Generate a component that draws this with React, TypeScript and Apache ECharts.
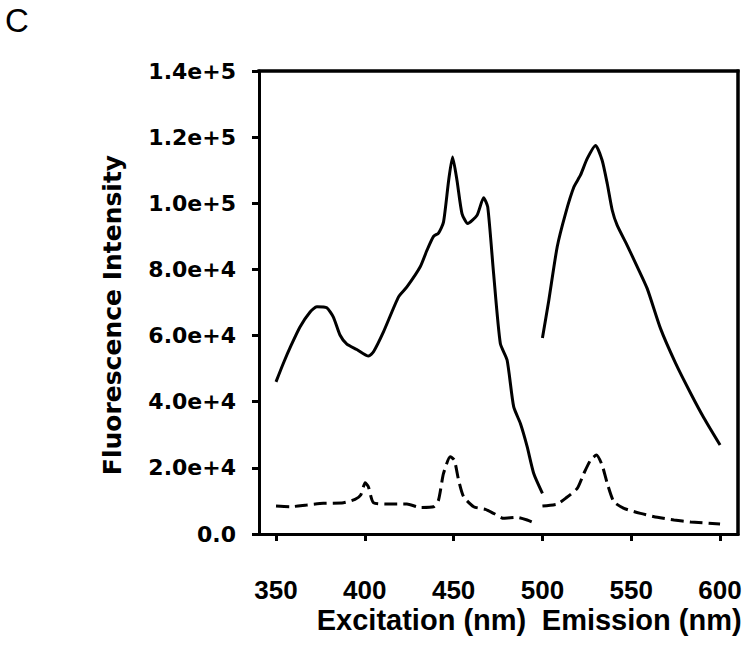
import React, { useEffect, useRef } from "react";
import * as echarts from "echarts";

// Excitation spectrum (solid)
const excX = [350, 354.1, 358.5, 363.5, 369.2, 373, 378.6, 382.3, 386.1, 389.9, 395.5, 402.1, 404.9, 410.5, 419, 423.7, 431.2, 435, 438.7, 441.5, 444.3, 447.2, 449.4, 451.9, 454.7, 457.9, 463.2, 466.9, 469.2, 472.5, 476.3, 480.1, 483.8, 487.6, 491.4, 495.1, 500];
const excY = [46000, 51560, 57000, 62600, 67150, 68700, 68400, 65600, 60100, 57400, 55800, 53800, 55100, 61100, 71700, 74700, 80800, 85800, 90000, 91000, 94300, 106900, 114000, 106900, 96900, 93900, 96400, 101700, 98900, 78800, 57600, 52600, 38500, 33400, 26400, 18300, 12300];

// Emission spectrum (solid)
const emX = [500, 503.6, 508.3, 513, 517.7, 521.4, 525.2, 529.9, 533.6, 536.5, 539.3, 542.1, 547.7, 553.4, 559, 566.5, 575, 583.5, 591, 600];
const emY = [59300, 70700, 86800, 96900, 104900, 108500, 113500, 117500, 113000, 105900, 97900, 93300, 87300, 80800, 74200, 62100, 51600, 42500, 35000, 26900];

// Excitation control (dashed)
const excCtrlX = [350, 357.9, 367.3, 376.7, 388, 394.5, 397.7, 400.2, 402, 404.9, 414.3, 423.7, 431.2, 438.7, 441.5, 444.3, 448.1, 450.4, 452.8, 455.6, 461.3, 467.9, 472.5, 478.2, 485.7, 491.4, 497];
const excCtrlY = [8460, 8250, 8760, 9270, 9460, 10480, 11780, 15500, 14300, 9460, 9060, 9060, 8050, 8250, 10270, 18300, 23350, 22350, 16300, 11300, 8250, 7460, 6250, 4740, 5040, 4230, 3020];

// Emission control (dashed)
const emCtrlX = [500, 508.3, 513, 519.6, 523.3, 527.1, 530.4, 533.6, 536.5, 540.2, 545.9, 555.2, 564.7, 574.1, 583.5, 600];
const emCtrlY = [8460, 9060, 10780, 13800, 18300, 22350, 23870, 20840, 15300, 9760, 7760, 6250, 5040, 4230, 3630, 3020];

const xTicks = [350, 400, 450, 500, 550, 600];
const X_MIN = 340.43;
const X_MAX = 610.1;
const Y_MIN = 0;
const Y_MAX = 140000;
const panelLabel = "C";
const yTitle = "Fluorescence Intensity";
const xTitleLeft = "Excitation (nm)";
const xTitleRight = "Emission (nm)";

const zip = (xs: number[], ys: number[]) => xs.map((x, i) => [x, ys[i]]);

export default function App() {
  const ref = useRef<HTMLDivElement>(null);
  useEffect(() => {
    document.body.style.margin = "0";
    if (!ref.current) return;
    const chart = echarts.init(ref.current, null, { renderer: "svg" });
    const arial = "'Liberation Sans', Arial, sans-serif";
    const dejavu = "'DejaVu Sans', sans-serif";
    const solid = { color: "#000", width: 3, type: "solid" as const };
    const dashed = { color: "#000", width: 3, type: [13, 6] as any };
    const gL = 259, gT = 71, gR = 13, gB = 116;
    const gRight = 751 - gR, gBottom = 650 - gB;
    const mk = (data: number[][], ls: any) => ({
      type: "line",
      data,
      showSymbol: false,
      symbol: "none",
      smooth: 0.2,
      lineStyle: ls,
      itemStyle: { color: "#000" },
    });
    chart.setOption({
      animation: false,
      backgroundColor: "#fff",
      grid: { left: gL, right: gR, top: gT, bottom: gB },
      xAxis: {
        type: "value",
        min: X_MIN,
        max: X_MAX,
        axisLine: { show: true, onZero: false, lineStyle: { color: "#000", width: 3 } },
        axisTick: { show: true, inside: false, length: 7, customValues: xTicks, lineStyle: { color: "#000", width: 3 } },
        axisLabel: {
          customValues: xTicks,
          margin: 43,
          color: "#000",
          fontFamily: arial,
          fontWeight: "bold",
          fontSize: 26,
        },
        splitLine: { show: false },
      },
      yAxis: {
        type: "value",
        min: Y_MIN,
        max: Y_MAX,
        interval: 20000,
        axisLine: { show: true, onZero: false, lineStyle: { color: "#000", width: 3 } },
        axisTick: { show: true, inside: false, length: 7, lineStyle: { color: "#000", width: 3 } },
        axisLabel: {
          margin: 23,
          color: "#000",
          fontFamily: dejavu,
          fontWeight: "bold",
          fontSize: 22,
          formatter: (v: number) => (v === 0 ? "0.0" : v.toExponential(1)),
        },
        splitLine: { show: false },
      },
      graphic: [
        {
          type: "text",
          x: 5,
          y: 20,
          style: { text: panelLabel, fontFamily: arial, fontSize: 33, fill: "#000", verticalAlign: "middle", align: "left" },
        },
        {
          type: "text",
          x: 112.5,
          y: 315,
          rotation: Math.PI / 2,
          style: { text: yTitle, fontFamily: dejavu, fontWeight: "bold", fontSize: 25, fill: "#000", align: "center", verticalAlign: "middle" },
        },
        {
          type: "text",
          x: 421.5,
          y: 620,
          style: { text: xTitleLeft, fontFamily: arial, fontWeight: "bold", fontSize: 29, fill: "#000", align: "center", verticalAlign: "middle" },
        },
        {
          type: "text",
          x: 641.7,
          y: 620,
          style: { text: xTitleRight, fontFamily: arial, fontWeight: "bold", fontSize: 29, fill: "#000", align: "center", verticalAlign: "middle" },
        },
        { type: "line", z: 100, shape: { x1: gL - 1.5, y1: gT, x2: gRight + 1.5, y2: gT }, style: { stroke: "#000", lineWidth: 3 } },
        { type: "line", z: 100, shape: { x1: gRight, y1: gT - 1.5, x2: gRight, y2: gBottom + 1.5 }, style: { stroke: "#000", lineWidth: 3 } },
      ],
      series: [
        mk(zip(excX, excY), solid),
        mk(zip(emX, emY), solid),
        mk(zip(excCtrlX, excCtrlY), dashed),
        mk(zip(emCtrlX, emCtrlY), dashed),
        {
          type: "line",
          data: [[X_MIN, Y_MAX], [X_MAX, Y_MAX], [X_MAX, Y_MIN]],
          showSymbol: false,
          symbol: "none",
          clip: false,
          silent: true,
          z: 5,
          lineStyle: { color: "#000", width: 3, cap: "square", join: "miter" },
        },
      ],
    });
    return () => chart.dispose();
  }, []);
  return <div ref={ref} style={{ width: 751, height: 650 }} />;
}
